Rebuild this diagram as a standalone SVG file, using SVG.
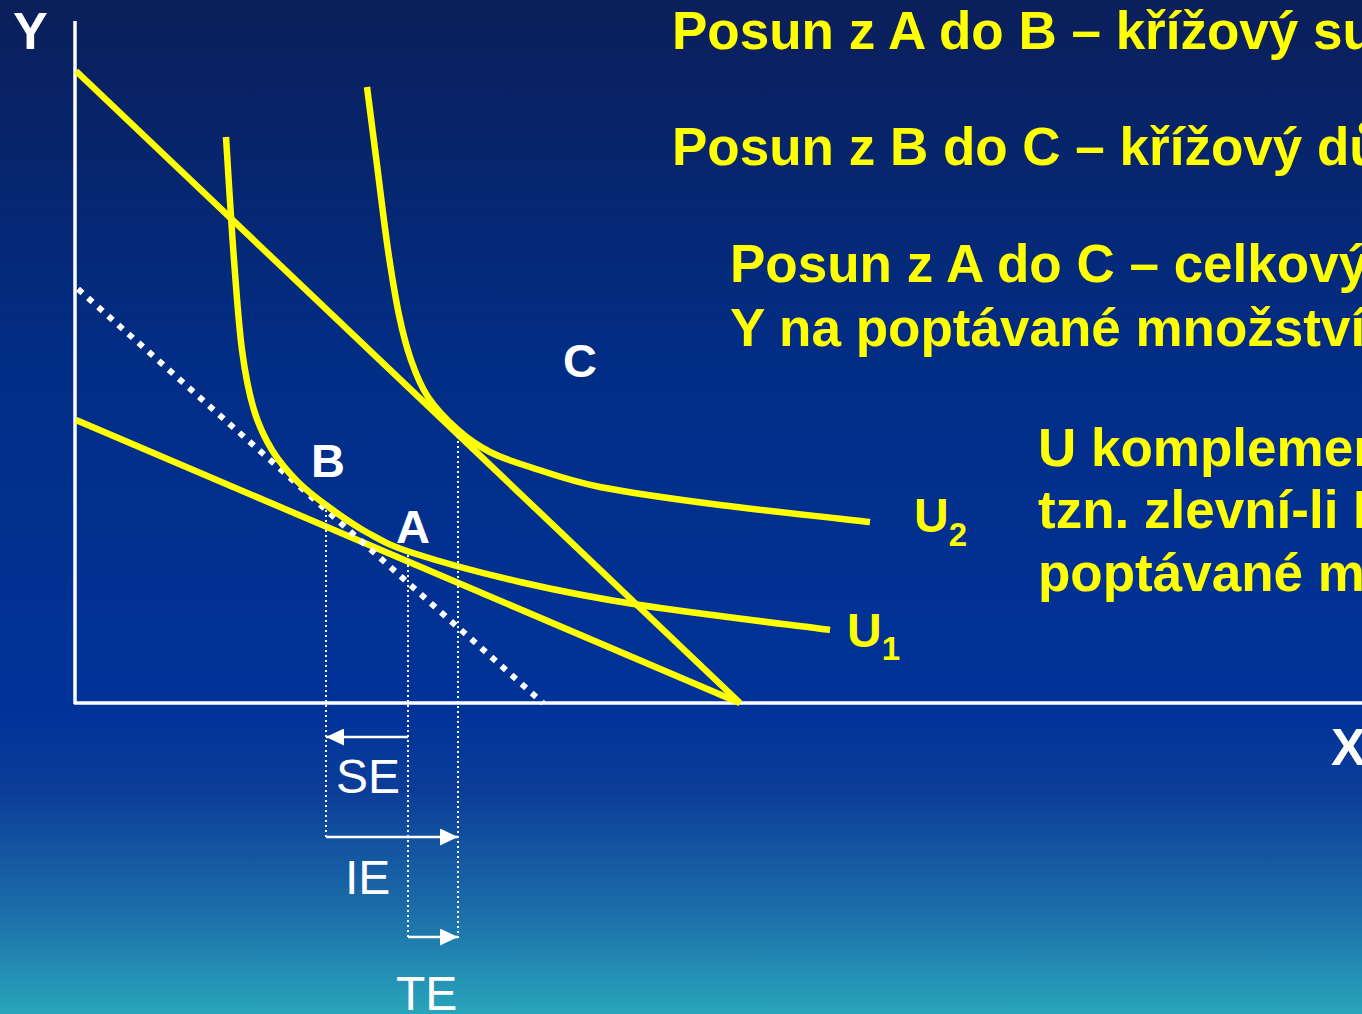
<svg xmlns="http://www.w3.org/2000/svg" width="1362" height="1014" viewBox="0 0 1362 1014">
  <defs>
    <linearGradient id="bg" x1="0" y1="0" x2="0" y2="1">
      <stop offset="0" stop-color="#0b1f5a"/>
      <stop offset="0.35" stop-color="#022d85"/>
      <stop offset="0.7" stop-color="#003399"/>
      <stop offset="0.78" stop-color="#0b3d98"/>
      <stop offset="0.9" stop-color="#1c6ea9"/>
      <stop offset="1" stop-color="#29a5bb"/>
    </linearGradient>
    <marker id="arr" viewBox="0 0 18 17" refX="18" refY="8.5" markerWidth="18" markerHeight="17" markerUnits="userSpaceOnUse" orient="auto">
      <path d="M0,0 L18,8.5 L0,17 Z" fill="#ffffff"/>
    </marker>
    <style>
      .ytxt { font-family: "Liberation Sans", Arial, sans-serif; font-weight: bold; font-size: 53px; fill: #ffff00; }
      .wlab { font-family: "Liberation Sans", Arial, sans-serif; font-weight: bold; font-size: 47px; fill: #ffffff; }
      .axlab { font-family: "Liberation Sans", Arial, sans-serif; font-weight: bold; font-size: 52px; fill: #ffffff; }
      .ulab { font-family: "Liberation Sans", Arial, sans-serif; font-weight: bold; font-size: 48px; fill: #ffff00; }
      .usub { font-family: "Liberation Sans", Arial, sans-serif; font-weight: bold; font-size: 33px; fill: #ffff00; }
      .elab { font-family: "Liberation Sans", Arial, sans-serif; font-size: 48px; fill: #ffffff; }
      .axis { stroke: #ffffff; stroke-width: 3.5; fill: none; }
      .yl { stroke: #ffff00; stroke-width: 6.5; fill: none; stroke-linecap: butt; }
      .dotw { stroke: #ffffff; stroke-width: 6; stroke-dasharray: 6 7.5; fill: none; }
      .vdot { stroke: #ffffff; stroke-width: 2; stroke-dasharray: 2 3; fill: none; }
      .arrline { stroke: #ffffff; stroke-width: 2.5; fill: none; marker-end: url(#arr); }
    </style>
  </defs>

  <rect x="0" y="0" width="1362" height="1014" fill="url(#bg)"/>

  <g id="axes">
    <line class="axis" x1="75" y1="21" x2="75" y2="704"/>
    <line class="axis" x1="74" y1="703" x2="1362" y2="703"/>
    <text class="axlab" x="13" y="49">Y</text>
    <text class="axlab" x="1331" y="765">X</text>
  </g>

  <g id="connectors">
    <line id="budget-steep" class="yl" x1="76" y1="71" x2="740" y2="703"/>
    <line id="budget-flat" class="yl" x1="76" y1="420" x2="740" y2="703"/>
    <line id="budget-compensated" class="dotw" x1="78" y1="289" x2="543" y2="703"/>
    <path id="U1-curve" class="yl" d="M226,137 C227.3,157.5 231.3,224.5 234,260 C236.7,295.5 238.7,325 242,350 C245.3,375 249,393.3 254,410 C259,426.7 264.7,438 272,450 C279.3,462 288.3,472.3 298,482 C307.7,491.7 318.3,499.5 330,508 C341.7,516.5 354.2,525.5 368,533 C381.8,540.5 387.7,544.8 413,553 C438.3,561.2 482.2,573.3 520,582 C557.8,590.7 588.3,597 640,605 C691.7,613 798.3,625.8 830,630"/>
    <path id="U2-curve" class="yl" d="M367,87 C368.7,100 373.5,137.8 377,165 C380.5,192.2 384.3,225 388,250 C391.7,275 395.2,296.7 399,315 C402.8,333.3 406.2,346.3 411,360 C415.8,373.7 420.2,385.3 428,397 C435.8,408.7 447.7,420.8 458,430 C468.3,439.2 478,445.8 490,452 C502,458.2 511.7,461.2 530,467 C548.3,472.8 568.3,480.7 600,487 C631.7,493.3 675,499.2 720,505 C765,510.8 845,519.2 870,522"/>
    <line class="vdot" x1="326" y1="505" x2="326" y2="837"/>
    <line class="vdot" x1="408" y1="555" x2="408" y2="938"/>
    <line class="vdot" x1="458" y1="436" x2="458" y2="938"/>
    <line id="arrow-SE" class="arrline" x1="408" y1="737" x2="326" y2="737"/>
    <line id="arrow-IE" class="arrline" x1="326" y1="837" x2="458" y2="837"/>
    <line id="arrow-TE" class="arrline" x1="408" y1="937" x2="458" y2="937"/>
  </g>

  <g id="point-labels">
    <text class="wlab" x="311" y="477">B</text>
    <text class="wlab" x="396" y="543">A</text>
    <text class="wlab" x="563" y="377">C</text>
  </g>

  <g id="curve-labels">
    <text class="ulab" x="914" y="532">U<tspan class="usub" dy="14">2</tspan></text>
    <text class="ulab" x="847" y="647">U<tspan class="usub" dy="13">1</tspan></text>
  </g>

  <g id="effect-labels">
    <text class="elab" x="336" y="793">SE</text>
    <text class="elab" x="345" y="894">IE</text>
    <text class="elab" x="396" y="1010">TE</text>
  </g>

  <g id="explanations">
    <text class="ytxt" x="672" y="49">Posun z A do B – křížový su</text>
    <text class="ytxt" x="672" y="165">Posun z B do C – křížový dů</text>
    <text class="ytxt" x="730" y="282">Posun z A do C – celkový</text>
    <text class="ytxt" x="730" y="346">Y na poptávané množství</text>
    <text class="ytxt" x="1038" y="466">U komplemen</text>
    <text class="ytxt" x="1038" y="528">tzn. zlevní-li I</text>
    <text class="ytxt" x="1038" y="591">poptávané m</text>
  </g>
</svg>
